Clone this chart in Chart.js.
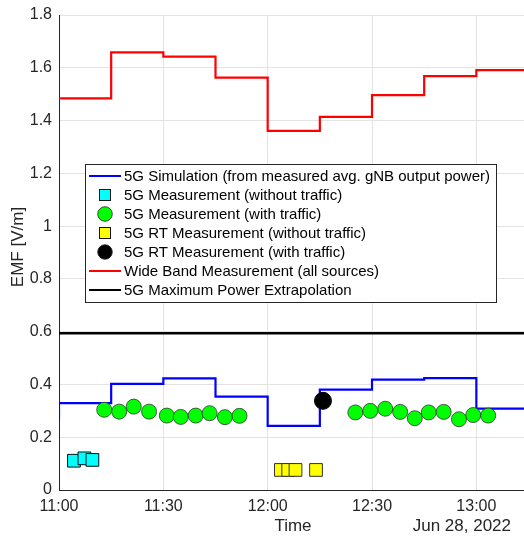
<!DOCTYPE html>
<html><head><meta charset="utf-8">
<script src="https://cdn.jsdelivr.net/npm/chart.js@4/dist/chart.umd.min.js"></script>
<style>html,body{margin:0;padding:0;background:#fff}canvas{display:block}</style>
</head><body>
<canvas id="c" width="524" height="536"></canvas>
<script>
// minutes after 11:00 on Jun 28, 2022
const xTicks = [0, 30, 60, 90, 120];
const xTickLabels = ['11:00', '11:30', '12:00', '12:30', '13:00'];
const xEnd = 133.7;

const simTimes  = [0, 0, 15, 30, 45, 60, 75, 90, 105, 120, 133.7];
const simValues = [0.268, 0.329, 0.402, 0.423, 0.354, 0.243, 0.380, 0.418, 0.424, 0.308, 0.308];

const wbTimes  = [0, 15, 30, 45, 60, 75, 90, 105, 120, 133.7];
const wbValues = [1.484, 1.658, 1.642, 1.563, 1.361, 1.414, 1.496, 1.568, 1.591, 1.591];

const maxTimes  = [0, 133.7];
const maxValues = [0.594, 0.594];

const measNoTrafTimes  = [4.3, 7.3, 9.6];
const measNoTrafValues = [0.111, 0.120, 0.114];

const measTrafTimes  = [13.0, 17.3, 21.5, 25.9, 31.0, 35.0, 39.3, 43.3, 47.7, 51.9,
                        85.2, 89.5, 93.8, 98.1, 102.3, 106.3, 110.6, 115.0, 119.1, 123.4];
const measTrafValues = [0.304, 0.297, 0.316, 0.297, 0.282, 0.277, 0.282, 0.291, 0.276, 0.281,
                        0.294, 0.300, 0.308, 0.296, 0.272, 0.294, 0.296, 0.268, 0.284, 0.282];

const rtNoTrafTimes  = [63.8, 65.9, 68.0, 73.9];
const rtNoTrafValues = [0.076, 0.076, 0.076, 0.076];

const rtTrafTimes  = [75.9];
const rtTrafValues = [0.338];

const yTicks = [0, 0.2, 0.4, 0.6, 0.8, 1.0, 1.2, 1.4, 1.6, 1.8];

const legendLabels = [
  '5G Simulation (from measured avg. gNB output power)',
  '5G Measurement (without traffic)',
  '5G Measurement (with traffic)',
  '5G RT Measurement (without traffic)',
  '5G RT Measurement (with traffic)',
  'Wide Band Measurement (all sources)',
  '5G Maximum Power Extrapolation'
];

const pts = (xs, ys) => xs.map((x, i) => ({x: x, y: ys[i]}));
const FONT = '"Liberation Sans", Arial, Helvetica, sans-serif';

const datasets = [
  {label: legendLabels[4], data: pts(rtTrafTimes, rtTrafValues), showLine: false,
   pointStyle: 'circle', pointRadius: 8.5, backgroundColor: '#000', borderColor: '#000', borderWidth: 1, legendKind: 'circle', legendIdx: 4},
  {label: legendLabels[2], data: pts(measTrafTimes, measTrafValues), showLine: false,
   pointStyle: 'circle', pointRadius: 7.5, backgroundColor: '#00ff00', borderColor: '#333', borderWidth: 0.8, legendKind: 'circle', legendIdx: 2},
  {label: legendLabels[3], data: pts(rtNoTrafTimes, rtNoTrafValues), showLine: false,
   pointStyle: 'rect', pointRadius: 9, backgroundColor: '#ffff00', borderColor: '#333', borderWidth: 1, legendKind: 'rect', legendIdx: 3},
  {label: legendLabels[1], data: pts(measNoTrafTimes, measNoTrafValues), showLine: false,
   pointStyle: 'rect', pointRadius: 9, backgroundColor: '#00ffff', borderColor: '#111', borderWidth: 1, legendKind: 'rect', legendIdx: 1},
  {label: legendLabels[0], data: pts(simTimes, simValues), showLine: true, stepped: 'before', pointRadius: 0,
   borderColor: '#0000ff', borderWidth: 2.2, fill: false, legendKind: 'line', legendIdx: 0},
  {label: legendLabels[5], data: pts(wbTimes, wbValues), showLine: true, stepped: 'before', pointRadius: 0,
   borderColor: '#ff0000', borderWidth: 2.2, fill: false, legendKind: 'line', legendIdx: 5},
  {label: legendLabels[6], data: pts(maxTimes, maxValues), showLine: true, pointRadius: 0,
   borderColor: '#000', borderWidth: 2.4, fill: false, legendKind: 'line', legendIdx: 6}
];

const decorPlugin = {
  id: 'decor',
  afterDraw(chart) {
    const ctx = chart.ctx;
    ctx.save();
    ctx.fillStyle = '#262626';
    ctx.font = '17px ' + FONT;
    ctx.textAlign = 'center'; ctx.textBaseline = 'middle';
    ctx.save();
    ctx.translate(18, 247);
    ctx.rotate(-Math.PI / 2);
    ctx.fillText('EMF [V/m]', 0, 0);
    ctx.restore();
    ctx.fillText('Time', 293, 526);
    ctx.textAlign = 'right';
    ctx.fillText('Jun 28, 2022', 511, 526);

    // legend box
    const bx = 85, by = 164, bw = 411, bh = 138;
    ctx.fillStyle = '#fff';
    ctx.fillRect(bx, by, bw, bh);
    ctx.strokeStyle = '#262626'; ctx.lineWidth = 1;
    ctx.strokeRect(bx + 0.5, by + 0.5, bw, bh);
    const order = chart.data.datasets.slice().sort((a, b) => a.legendIdx - b.legendIdx);
    const rowY0 = 176, rowH = 19;
    ctx.font = '15px ' + FONT;
    ctx.textAlign = 'left'; ctx.textBaseline = 'middle';
    order.forEach((ds, i) => {
      const y = rowY0 + i * rowH;
      if (ds.legendKind === 'line') {
        ctx.strokeStyle = ds.borderColor; ctx.lineWidth = 2;
        ctx.beginPath(); ctx.moveTo(89, y); ctx.lineTo(121, y); ctx.stroke();
      } else if (ds.legendKind === 'rect') {
        ctx.fillStyle = ds.backgroundColor; ctx.strokeStyle = '#111'; ctx.lineWidth = 1;
        ctx.fillRect(99, y - 6, 12, 12); ctx.strokeRect(99.5, y - 5.5, 11, 11);
      } else {
        ctx.fillStyle = ds.backgroundColor; ctx.strokeStyle = '#222'; ctx.lineWidth = 0.8;
        ctx.beginPath(); ctx.arc(105, y, 7.3, 0, Math.PI * 2); ctx.fill(); ctx.stroke();
      }
      ctx.fillStyle = '#000';
      ctx.fillText(ds.label, 124, y + 1);
    });
    ctx.restore();
  }
};

new Chart(document.getElementById('c'), {
  type: 'scatter',
  data: {datasets: datasets},
  options: {
    responsive: false,
    animation: false,
    layout: {autoPadding: false, padding: {top: 15, right: 0, left: 0, bottom: 0}},
    plugins: {legend: {display: false}, tooltip: {enabled: false}},
    scales: {
      x: {
        type: 'linear', min: 0, max: xEnd,
        afterBuildTicks: s => { s.ticks = xTicks.map(v => ({value: v})); },
        afterFit: s => { s.height = 46; s.paddingLeft = 0; s.paddingRight = 0; },
        ticks: {
          callback: (v) => { const k = xTicks.indexOf(v); return k >= 0 ? xTickLabels[k] : ''; },
          font: {family: FONT, size: 16}, color: '#262626', padding: 7, maxRotation: 0, autoSkip: false
        },
        grid: {color: '#e3e3e3', drawTicks: false, lineWidth: 1},
        border: {color: '#262626', width: 1}
      },
      y: {
        type: 'linear', min: 0, max: 1.8,
        afterBuildTicks: s => { s.ticks = yTicks.map(v => ({value: v})); },
        afterFit: s => { s.width = 59; s.paddingTop = 0; s.paddingBottom = 0; },
        ticks: {
          callback: v => String(Math.round(v * 10) / 10),
          font: {family: FONT, size: 16}, color: '#262626', padding: 7
        },
        grid: {color: '#e3e3e3', drawTicks: false, lineWidth: 1},
        border: {color: '#262626', width: 1}
      }
    }
  },
  plugins: [decorPlugin]
});
</script>
</body></html>
